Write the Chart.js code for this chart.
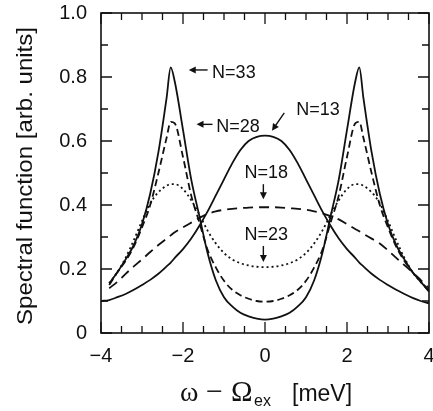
<!DOCTYPE html>
<html>
<head>
<meta charset="utf-8">
<script src="https://cdn.jsdelivr.net/npm/chart.js@4"></script>
<style>
  html, body { margin: 0; padding: 0; background: #fff; }
  canvas { display: block; }
</style>
</head>
<body>
<canvas id="spectral" width="433" height="411"></canvas>
<script>
// energy detuning in meV
const xs = [-4, -3.8, -3.6, -3.4, -3.2, -3, -2.8, -2.6, -2.4, -2.3, -2.2, -2, -1.8, -1.6, -1.4, -1.2, -1, -0.8, -0.6, -0.4, -0.2, 0,
            0.2, 0.4, 0.6, 0.8, 1, 1.2, 1.4, 1.6, 1.8, 2, 2.2, 2.3, 2.4, 2.6, 2.8, 3, 3.2, 3.4, 3.6, 3.8, 4]

const n13 = [0.1, 0.103, 0.112, 0.122, 0.135, 0.15, 0.166, 0.185, 0.208, 0.22, 0.235, 0.262, 0.295, 0.335, 0.38, 0.43, 0.48, 0.53, 0.572, 0.6, 0.613, 0.617,
             0.613, 0.6, 0.572, 0.53, 0.48, 0.43, 0.38, 0.335, 0.295, 0.262, 0.235, 0.22, 0.208, 0.185, 0.166, 0.15, 0.135, 0.122, 0.11, 0.1, 0.093]
const n18 = [null, 0.14, 0.16, 0.185, 0.208, 0.23, 0.253, 0.275, 0.295, 0.305, 0.315, 0.33, 0.345, 0.36, 0.372, 0.38, 0.385, 0.388, 0.39, 0.392, 0.393, 0.393,
             0.393, 0.392, 0.39, 0.388, 0.385, 0.38, 0.374, 0.365, 0.355, 0.34, 0.325, 0.318, 0.31, 0.295, 0.28, 0.258, 0.235, 0.212, 0.19, 0.165, 0.14]
const n23 = [null, 0.155, 0.19, 0.235, 0.29, 0.35, 0.405, 0.44, 0.46, 0.465, 0.465, 0.45, 0.415, 0.37, 0.32, 0.28, 0.25, 0.23, 0.218, 0.211, 0.207, 0.206,
             0.207, 0.211, 0.218, 0.23, 0.25, 0.28, 0.32, 0.37, 0.415, 0.45, 0.465, 0.465, 0.46, 0.44, 0.405, 0.35, 0.29, 0.235, 0.19, 0.16, 0.135]
const n28 = [null, 0.15, 0.19, 0.225, 0.27, 0.33, 0.4, 0.5, 0.61, 0.66, 0.655, 0.55, 0.43, 0.345, 0.26, 0.205, 0.163, 0.135, 0.118, 0.107, 0.1, 0.098,
             0.1, 0.107, 0.118, 0.135, 0.163, 0.205, 0.26, 0.345, 0.43, 0.55, 0.655, 0.66, 0.61, 0.5, 0.4, 0.33, 0.27, 0.225, 0.19, 0.16, 0.13]
const n33 = [null, 0.155, 0.19, 0.23, 0.275, 0.34, 0.435, 0.565, 0.735, 0.83, 0.785, 0.635, 0.48, 0.365, 0.25, 0.165, 0.112, 0.083, 0.063, 0.052, 0.045, 0.042,
             0.045, 0.052, 0.063, 0.083, 0.112, 0.165, 0.25, 0.365, 0.48, 0.635, 0.785, 0.83, 0.735, 0.565, 0.435, 0.34, 0.275, 0.23, 0.19, 0.16, 0.13]

// curve labels: text, text position (x, y), arrow from -> to
const labels = [
    { text: 'N=33', x: -1.29, y: 0.812, from: [-1.40, 0.822], to: [-1.86, 0.822] },
    { text: 'N=28', x: -1.19, y: 0.645, from: [-1.28, 0.652], to: [-1.67, 0.652] },
    { text: 'N=13', x: 0.76, y: 0.697, from: [0.47, 0.688], to: [0.17, 0.632] },
    { text: 'N=18', x: -0.50, y: 0.50, from: [-0.04, 0.465], to: [-0.04, 0.418] },
    { text: 'N=23', x: -0.50, y: 0.306, from: [-0.04, 0.272], to: [-0.04, 0.222] }
]

const pts = arr => xs.map((x, i) => ({ x: x, y: arr[i] }))

const line = (label, arr, dash) => ({
    label: label,
    data: pts(arr),
    borderColor: '#111',
    borderWidth: 1.8,
    borderDash: dash,
    pointRadius: 0,
    fill: false,
    cubicInterpolationMode: 'monotone'
})

const SANS = '"Liberation Sans", Arial, sans-serif'
const SERIF = '"Liberation Serif", "Times New Roman", serif'

const arrow = (ctx, x1, y1, x2, y2) => {
    const a = Math.atan2(y2 - y1, x2 - x1)
    const h = 7
    ctx.beginPath()
    ctx.moveTo(x1, y1)
    ctx.lineTo(x2 - Math.cos(a) * h * 0.8, y2 - Math.sin(a) * h * 0.8)
    ctx.stroke()
    ctx.beginPath()
    ctx.moveTo(x2, y2)
    ctx.lineTo(x2 - h * Math.cos(a) + 3.5 * Math.sin(a), y2 - h * Math.sin(a) - 3.5 * Math.cos(a))
    ctx.lineTo(x2 - h * Math.cos(a) - 3.5 * Math.sin(a), y2 - h * Math.sin(a) + 3.5 * Math.cos(a))
    ctx.closePath()
    ctx.fill()
}

const deco = {
    id: 'deco',
    afterDraw(chart) {
        const ctx = chart.ctx
        const a = chart.chartArea
        const sx = chart.scales.x
        const sy = chart.scales.y
        ctx.save()
        ctx.strokeStyle = '#111'
        ctx.fillStyle = '#111'

        // frame
        ctx.lineWidth = 1.6
        ctx.strokeRect(a.left, a.top, a.right - a.left, a.bottom - a.top)

        // inward ticks on all four sides
        ctx.lineWidth = 1.3
        sx.ticks.forEach(t => {
            const p = sx.getPixelForValue(t.value)
            const len = t.label ? 11 : 7
            ctx.beginPath()
            ctx.moveTo(p, a.bottom); ctx.lineTo(p, a.bottom - len)
            ctx.moveTo(p, a.top); ctx.lineTo(p, a.top + len)
            ctx.stroke()
        })
        sy.ticks.forEach(t => {
            const p = sy.getPixelForValue(t.value)
            const len = t.label ? 11 : 7
            ctx.beginPath()
            ctx.moveTo(a.left, p); ctx.lineTo(a.left + len, p)
            ctx.moveTo(a.right, p); ctx.lineTo(a.right - len, p)
            ctx.stroke()
        })

        // curve labels with arrows
        ctx.font = '18px ' + SANS
        ctx.textBaseline = 'middle'
        ctx.textAlign = 'left'
        ctx.lineWidth = 1.4
        labels.forEach(l => {
            ctx.fillText(l.text, sx.getPixelForValue(l.x), sy.getPixelForValue(l.y))
            arrow(ctx,
                sx.getPixelForValue(l.from[0]), sy.getPixelForValue(l.from[1]),
                sx.getPixelForValue(l.to[0]), sy.getPixelForValue(l.to[1]))
        })

        // y axis title
        const yt = 'Spectral function [arb. units]'
        ctx.save()
        ctx.font = '22px ' + SANS
        ctx.textAlign = 'center'
        ctx.textBaseline = 'middle'
        ctx.translate(26, 176)
        ctx.rotate(-Math.PI / 2)
        ctx.scale(298 / ctx.measureText(yt).width, 1)
        ctx.fillText(yt, 0, 0)
        ctx.restore()

        // x axis title: ω − Ω_ex [meV]
        const base = 401
        ctx.textAlign = 'left'
        ctx.textBaseline = 'alphabetic'
        const part = (s, font, x, dy) => {
            ctx.font = font
            ctx.fillText(s, x, base + (dy || 0))
        }
        part('ω', '28px ' + SERIF, 180)
        part('−', '30px ' + SERIF, 206)
        part('Ω', '29px ' + SERIF, 231)
        part('ex', '16px ' + SANS, 254, 5)
        part('[meV]', '23px ' + SANS, 292)

        ctx.restore()
    }
}

new Chart(document.getElementById('spectral').getContext('2d'), {
    type: 'line',
    data: {
        datasets: [
            line('N=13', n13, []),
            line('N=18', n18, [10, 6]),
            line('N=23', n23, [2, 3]),
            line('N=28', n28, [7, 4]),
            line('N=33', n33, [])
        ]
    },
    options: {
        responsive: false,
        devicePixelRatio: 1,
        animation: false,
        layout: { padding: { left: 0, top: 13, right: 4, bottom: 0 } },
        plugins: {
            legend: { display: false },
            tooltip: { enabled: false }
        },
        scales: {
            x: {
                type: 'linear',
                min: -4,
                max: 4,
                grid: { display: false },
                border: { display: false },
                afterFit: s => { s.height = 78; s.paddingLeft = 0; s.paddingRight = 0 },
                ticks: {
                    stepSize: 0.5,
                    autoSkip: false,
                    maxRotation: 0,
                    padding: 3,
                    color: '#111',
                    font: { family: SANS, size: 20 },
                    callback: v => (Math.abs(v % 2) < 1e-9) ? (v < 0 ? '−' + Math.abs(v) : String(v)) : ''
                }
            },
            y: {
                min: 0,
                max: 1,
                grid: { display: false },
                border: { display: false },
                afterFit: s => { s.width = 101; s.paddingTop = 0; s.paddingBottom = 0 },
                ticks: {
                    stepSize: 0.1,
                    autoSkip: false,
                    padding: 6,
                    color: '#111',
                    font: { family: SANS, size: 20 },
                    callback: v => (Math.round(v * 10) % 2 === 0) ? (v === 0 ? '0' : v.toFixed(1)) : ''
                }
            }
        }
    },
    plugins: [deco]
})
</script>
</body>
</html>
